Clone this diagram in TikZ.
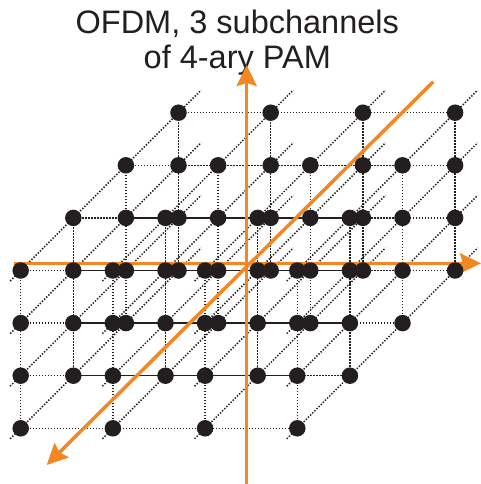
\documentclass[tikz,border=0pt]{standalone}
\usepackage{fontspec}
\setmainfont{Liberation Sans}
\usetikzlibrary{arrows.meta}
\definecolor{axisorange}{RGB}{242,135,35}
\definecolor{ink}{RGB}{35,31,32}
\begin{document}
\begin{tikzpicture}[x=1pt,y=-1pt,
  dotline/.style={ink, line width=1.5pt, dash pattern=on 1.4pt off 1.6pt},
  dotnode/.style={circle, fill=ink, inner sep=0pt, minimum size=16.5pt},
  axisline/.style={axisorange, line width=3.5pt, -{Stealth[length=21pt,width=20pt,inset=3pt]}},
  titletext/.style={font=\fontsize{32.5}{36}\selectfont, text=ink, inner sep=0pt, anchor=base}]
\useasboundingbox (0,0) rectangle (481,484);
\def\xo{20.7}\def\yo{428.3}\def\dx{92.2}\def\dy{52.6}\def\dk{52.6}
% lattice coordinates
\foreach \i in {0,...,3}{
  \foreach \j in {0,...,3}{
    \foreach \k in {0,...,3}{
      \coordinate (p\i\j\k) at ({\xo+\i*\dx+\k*\dk},{\yo-\j*\dy-\k*\dk});
    }
    \coordinate (s\i\j) at ({\xo+\i*\dx-0.2*\dk},{\yo-\j*\dy+0.2*\dk});
    \coordinate (e\i\j) at ({\xo+\i*\dx+3.43*\dk},{\yo-\j*\dy-3.43*\dk});
  }
}
% dotted lattice lines
\foreach \j in {0,...,3}{\foreach \k in {0,...,3}{\draw[dotline] (p0\j\k) -- (p3\j\k);}}
\foreach \i in {0,...,3}{\foreach \k in {0,...,3}{\draw[dotline] (p\i0\k) -- (p\i3\k);}}
\foreach \i in {0,...,3}{\foreach \j in {0,...,3}{\draw[dotline] (s\i\j) -- (e\i\j);}}
% title
\node[titletext] (t1) at (237.3,33.3) {OFDM, 3 subchannels};
\node[titletext] (t2) at (237.3,68.3) {of 4-ary PAM};
% axes
\coordinate (vbot) at (246.7,484);
\coordinate (vtop) at (246.7,65);
\coordinate (hl) at (14,263.3);
\coordinate (hr) at (481,263.3);
\coordinate (dtop) at (433.3,81.7);
\coordinate (dbot) at (46.7,465);
\draw[axisline] (vbot) -- (vtop);
\draw[axisline] (hl) -- (hr);
\draw[axisline] (dtop) -- (dbot);
% constellation points
\foreach \i in {0,...,3}{\foreach \j in {0,...,3}{\foreach \k in {0,...,3}{
  \node[dotnode] (d\i\j\k) at (p\i\j\k) {};
}}}
\end{tikzpicture}
\end{document}
